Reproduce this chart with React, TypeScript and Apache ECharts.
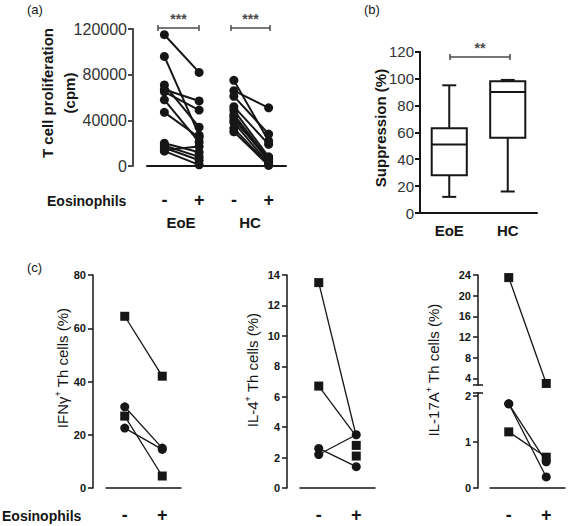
import React, { useEffect, useRef } from "react";
import * as echarts from "echarts";

const FONT = '"Liberation Sans", Arial, Helvetica, sans-serif';
const INK = "#161616";
const GRAY = "#4a4a4a";

// ---------- Panel (a) ----------
const aTicks = [0, 40000, 80000, 120000];
const aXPositions = [1, 2, 3, 4];
const aXSigns = ["-", "+", "-", "+"];
const aGroups = ["EoE", "HC"];
const eoeWithout = [115000, 96000, 71000, 67000, 65000, 58000, 47000, 20000, 18000, 16000, 14000, 13000];
const eoeWith = [82000, 27000, 34000, 57000, 49000, 21000, 25000, 12000, 8000, 5000, 17000, 1000];
const hcWithout = [75000, 66000, 61000, 52000, 49000, 45000, 43000, 40000, 38000, 33000, 30000];
const hcWith = [22000, 51000, 28000, 19000, 8000, 6000, 4000, 7000, 2000, 1000, 500];
const aSignificance = ["***", "***"];

// ---------- Panel (b) ----------
const bCategories = ["EoE", "HC"];
// min, Q1, median, Q3, max
const bStats = [
  [12, 28, 51, 63, 95],
  [16, 56, 90, 98, 99],
];
const bSignificance = "**";

// ---------- Panel (c) ----------
const cXPositions = [1, 2];
const cSigns = ["-", "+"];
const ifnSquares = [
  [64.5, 42],
  [27, 4.5],
];
const ifnCircles = [
  [30.5, 15],
  [22.5, 14.5],
];
const il4SquareMarks = [
  [13.5, 2.8],
  [6.7, 2.1],
];
const il4CircleMarks = [
  [2.6, 3.5],
  [2.2, 1.4],
];
const il4Links = [
  [13.5, 3.4],
  [6.7, 3.4],
  [2.2, 3.5],
  [2.6, 1.4],
];
const il17UpperSquares = [[23.5, 3]];
const il17LowerSquares = [[1.22, 0.67]];
const il17LowerCircles = [
  [1.83, 0.57],
  [1.83, 0.24],
];
const il17UpperTicks = [4, 8, 12, 16, 20, 24];
const il17LowerTicks = [0, 1, 2];

function pairLine(
  pair: number[],
  x0: number,
  xAxisIndex: number,
  yAxisIndex: number,
  symbol: string,
  symbolSize: number,
  lineWidth: number
) {
  return {
    type: "line",
    xAxisIndex,
    yAxisIndex,
    data: [
      [x0, pair[0]],
      [x0 + 1, pair[1]],
    ],
    symbol,
    symbolSize,
    showSymbol: symbol !== "none",
    lineStyle: { color: INK, width: lineWidth },
    itemStyle: { color: INK },
    silent: true,
    z: 3,
  };
}

function scatterPairs(
  pairs: number[][],
  xAxisIndex: number,
  yAxisIndex: number,
  symbol: string,
  symbolSize: number
) {
  const data: number[][] = [];
  pairs.forEach((p) => {
    data.push([1, p[0]]);
    data.push([2, p[1]]);
  });
  return {
    type: "scatter",
    xAxisIndex,
    yAxisIndex,
    data,
    symbol,
    symbolSize,
    itemStyle: { color: INK, opacity: 1 },
    silent: true,
    z: 4,
  };
}

const tickLabelC = { fontFamily: FONT, fontSize: 11, fontWeight: "bold", color: INK, margin: 7 };

function cYAxis(gridIndex: number, min: number, max: number, extra: any) {
  return {
    type: "value",
    gridIndex,
    min,
    max,
    offset: 13,
    axisLine: { show: true, lineStyle: { color: INK, width: 1.5 } },
    axisTick: { show: true, length: 5, lineStyle: { color: INK, width: 1.5 } },
    splitLine: { show: false },
    axisLabel: { ...tickLabelC },
    ...extra,
  };
}

function cXAxis(gridIndex: number, show: boolean) {
  return {
    type: "value",
    gridIndex,
    min: 0.5,
    max: 2.5,
    show,
    offset: 11,
    axisLine: { show: true, lineStyle: { color: INK, width: 1.5 } },
    axisTick: { show: false },
    splitLine: { show: false },
    axisLabel: {
      customValues: cXPositions,
      formatter: (v: number) => cSigns[cXPositions.indexOf(v)] ?? "",
      fontFamily: FONT,
      fontSize: 18,
      fontWeight: "bold",
      color: INK,
      margin: 7,
    },
  };
}

function supTitle(x: number, y: number, base: string, rest: string) {
  return {
    type: "text",
    x,
    y,
    rotation: Math.PI / 2,
    style: {
      text: `{n|${base}}{s|+}{n|${rest}}`,
      align: "center",
      verticalAlign: "middle",
      fill: INK,
      rich: {
        n: { fontFamily: FONT, fontSize: 15, lineHeight: 17, fill: INK },
        s: { fontFamily: FONT, fontSize: 9, lineHeight: 10, verticalAlign: "top", fill: INK },
      },
    },
  };
}

function sigBar(x1: number, x2: number, y: number, label: string) {
  const ls = { stroke: GRAY, lineWidth: 1.5 };
  return [
    { type: "line", shape: { x1, y1: y, x2, y2: y }, style: ls },
    { type: "line", shape: { x1, y1: y - 3, x2: x1, y2: y + 3 }, style: ls },
    { type: "line", shape: { x1: x2, y1: y - 3, x2, y2: y + 3 }, style: ls },
    {
      type: "text",
      x: (x1 + x2) / 2,
      y: y - 9,
      style: {
        text: label,
        align: "center",
        verticalAlign: "middle",
        fontFamily: FONT,
        fontSize: 14,
        fontWeight: "bold",
        fill: GRAY,
      },
    },
  ];
}

function plainText(x: number, y: number, text: string, size: number, bold: boolean, align = "left") {
  return {
    type: "text",
    x,
    y,
    style: {
      text,
      align,
      verticalAlign: "middle",
      fontFamily: FONT,
      fontSize: size,
      fontWeight: bold ? "bold" : "normal",
      fill: INK,
    },
  };
}

export default function App() {
  const ref = useRef<HTMLDivElement>(null);

  useEffect(() => {
    if (!ref.current) return;
    const chart = echarts.init(ref.current, null, { renderer: "svg" });

    const series: any[] = [];
    eoeWithout.forEach((v, i) => series.push(pairLine([v, eoeWith[i]], 1, 0, 0, "circle", 9, 2)));
    hcWithout.forEach((v, i) => series.push(pairLine([v, hcWith[i]], 3, 0, 0, "circle", 9, 2)));

    series.push({
      type: "custom",
      xAxisIndex: 1,
      yAxisIndex: 1,
      data: bStats.map((s, i) => [i, ...s]),
      encode: { x: 0, y: [1, 2, 3, 4, 5] },
      silent: true,
      renderItem: (params: any, api: any) => {
        const x = api.value(0);
        const pts = [1, 2, 3, 4, 5].map((k) => api.coord([x, api.value(k)]));
        const cx = pts[0][0];
        const bw = api.size([1, 0])[0] * 0.3;
        const cap = 7;
        const st = { stroke: INK, lineWidth: 2, fill: "none" };
        return {
          type: "group",
          children: [
            { type: "line", shape: { x1: cx, y1: pts[0][1], x2: cx, y2: pts[1][1] }, style: st },
            { type: "line", shape: { x1: cx, y1: pts[3][1], x2: cx, y2: pts[4][1] }, style: st },
            { type: "line", shape: { x1: cx - cap, y1: pts[0][1], x2: cx + cap, y2: pts[0][1] }, style: st },
            { type: "line", shape: { x1: cx - cap, y1: pts[4][1], x2: cx + cap, y2: pts[4][1] }, style: st },
            {
              type: "rect",
              shape: { x: cx - bw, y: pts[3][1], width: 2 * bw, height: pts[1][1] - pts[3][1] },
              style: { fill: "#fff", stroke: INK, lineWidth: 2 },
            },
            { type: "line", shape: { x1: cx - bw, y1: pts[2][1], x2: cx + bw, y2: pts[2][1] }, style: st },
          ],
        };
      },
    });

    // (c) IFN
    ifnSquares.forEach((p) => series.push(pairLine(p, 1, 2, 2, "rect", 9, 1.3)));
    ifnCircles.forEach((p) => series.push(pairLine(p, 1, 2, 2, "circle", 9, 1.3)));
    // (c) IL-4
    il4Links.forEach((p) => series.push(pairLine(p, 1, 3, 3, "none", 0, 1.3)));
    series.push(scatterPairs(il4SquareMarks, 3, 3, "rect", 9));
    series.push(scatterPairs(il4CircleMarks, 3, 3, "circle", 9));
    // (c) IL-17A
    il17UpperSquares.forEach((p) => series.push(pairLine(p, 1, 4, 4, "rect", 9, 1.3)));
    il17LowerSquares.forEach((p) => series.push(pairLine(p, 1, 5, 5, "rect", 9, 1.3)));
    il17LowerCircles.forEach((p) => series.push(pairLine(p, 1, 5, 5, "circle", 9, 1.3)));

    const graphic: any[] = [
      plainText(27, 9, "(a)", 13, false),
      plainText(364, 9, "(b)", 13, false),
      plainText(27, 267, "(c)", 13, false),
      {
        type: "text",
        x: 58,
        y: 93,
        rotation: Math.PI / 2,
        style: {
          text: "T cell proliferation\n(cpm)",
          align: "center",
          verticalAlign: "middle",
          lineHeight: 22,
          fontFamily: FONT,
          fontSize: 15,
          fontWeight: "bold",
          fill: INK,
        },
      },
      {
        type: "text",
        x: 380,
        y: 128,
        rotation: Math.PI / 2,
        style: {
          text: "Suppression (%)",
          align: "center",
          verticalAlign: "middle",
          fontFamily: FONT,
          fontSize: 15,
          fontWeight: "bold",
          fill: INK,
        },
      },
      supTitle(62, 368, "IFNγ", " Th cells (%)"),
      supTitle(252, 370, "IL-4", " Th cells (%)"),
      supTitle(433, 370, "IL-17A", " Th cells (%)"),
      plainText(47, 201, "Eosinophils", 14, true),
      plainText(181, 222, aGroups[0], 15, true, "center"),
      plainText(250, 222, aGroups[1], 15, true, "center"),
      plainText(2, 516, "Eosinophils", 14, true),
      ...sigBar(158, 199, 28, aSignificance[0]),
      ...sigBar(231, 270, 28, aSignificance[1]),
      ...sigBar(450, 510, 57, bSignificance),
      { type: "line", shape: { x1: 473, y1: 385, x2: 483, y2: 385 }, style: { stroke: INK, lineWidth: 1.5 } },
      { type: "line", shape: { x1: 473, y1: 393, x2: 483, y2: 393 }, style: { stroke: INK, lineWidth: 1.5 } },
    ];

    const option: any = {
      animation: false,
      backgroundColor: "#ffffff",
      grid: [
        { left: 147, top: 29, width: 139, height: 137 },
        { left: 420, top: 51.7, width: 117, height: 161.3 },
        { left: 106, top: 275, width: 75, height: 213 },
        { left: 300, top: 275, width: 75, height: 213 },
        { left: 490, top: 275, width: 75, height: 110 },
        { left: 490, top: 393, width: 75, height: 95 },
      ],
      xAxis: [
        {
          type: "value",
          gridIndex: 0,
          min: 0.5,
          max: 4.5,
          offset: 15,
          axisLine: { show: true, lineStyle: { color: INK, width: 2 } },
          axisTick: { show: false },
          splitLine: { show: false },
          axisLabel: {
            customValues: aXPositions,
            formatter: (v: number) => aXSigns[aXPositions.indexOf(v)] ?? "",
            fontFamily: FONT,
            fontSize: 18,
            fontWeight: "bold",
            color: INK,
            margin: 10,
          },
        },
        {
          type: "category",
          gridIndex: 1,
          data: bCategories,
          boundaryGap: true,
          axisLine: { show: true, lineStyle: { color: INK, width: 2 } },
          axisTick: { show: false },
          axisLabel: { fontFamily: FONT, fontSize: 15, fontWeight: "bold", color: INK, margin: 10 },
        },
        cXAxis(2, true),
        cXAxis(3, true),
        cXAxis(4, false),
        cXAxis(5, true),
      ],
      yAxis: [
        {
          type: "value",
          gridIndex: 0,
          min: 0,
          max: 120000,
          interval: 40000,
          offset: 14,
          axisLine: { show: true, lineStyle: { color: GRAY, width: 2 } },
          axisTick: { show: true, length: 5, lineStyle: { color: GRAY, width: 2 } },
          splitLine: { show: false },
          axisLabel: {
            customValues: aTicks,
            formatter: (v: number) => String(v),
            fontFamily: FONT,
            fontSize: 16,
            color: "#333",
            margin: 6,
          },
        },
        {
          type: "value",
          gridIndex: 1,
          min: 0,
          max: 120,
          interval: 20,
          axisLine: { show: true, lineStyle: { color: INK, width: 2 } },
          axisTick: { show: true, length: 5, lineStyle: { color: INK, width: 2 } },
          splitLine: { show: false },
          axisLabel: { fontFamily: FONT, fontSize: 15, color: "#333", margin: 6 },
        },
        cYAxis(2, 0, 80, { interval: 20 }),
        cYAxis(3, 0, 14, { interval: 2 }),
        cYAxis(4, 2.7, 24, {
          offset: 12,
          axisTick: { show: true, length: 5, customValues: il17UpperTicks, lineStyle: { color: INK, width: 1.5 } },
          axisLabel: { ...tickLabelC, customValues: il17UpperTicks },
        }),
        cYAxis(5, 0, 2.065, {
          offset: 12,
          axisTick: { show: true, length: 5, customValues: il17LowerTicks, lineStyle: { color: INK, width: 1.5 } },
          axisLabel: { ...tickLabelC, customValues: il17LowerTicks },
        }),
      ],
      series,
      graphic,
    };

    chart.setOption(option);
    return () => chart.dispose();
  }, []);

  return (
    <div
      ref={ref}
      style={{ position: "absolute", left: 0, top: 0, width: 568, height: 526, background: "#fff" }}
    />
  );
}
